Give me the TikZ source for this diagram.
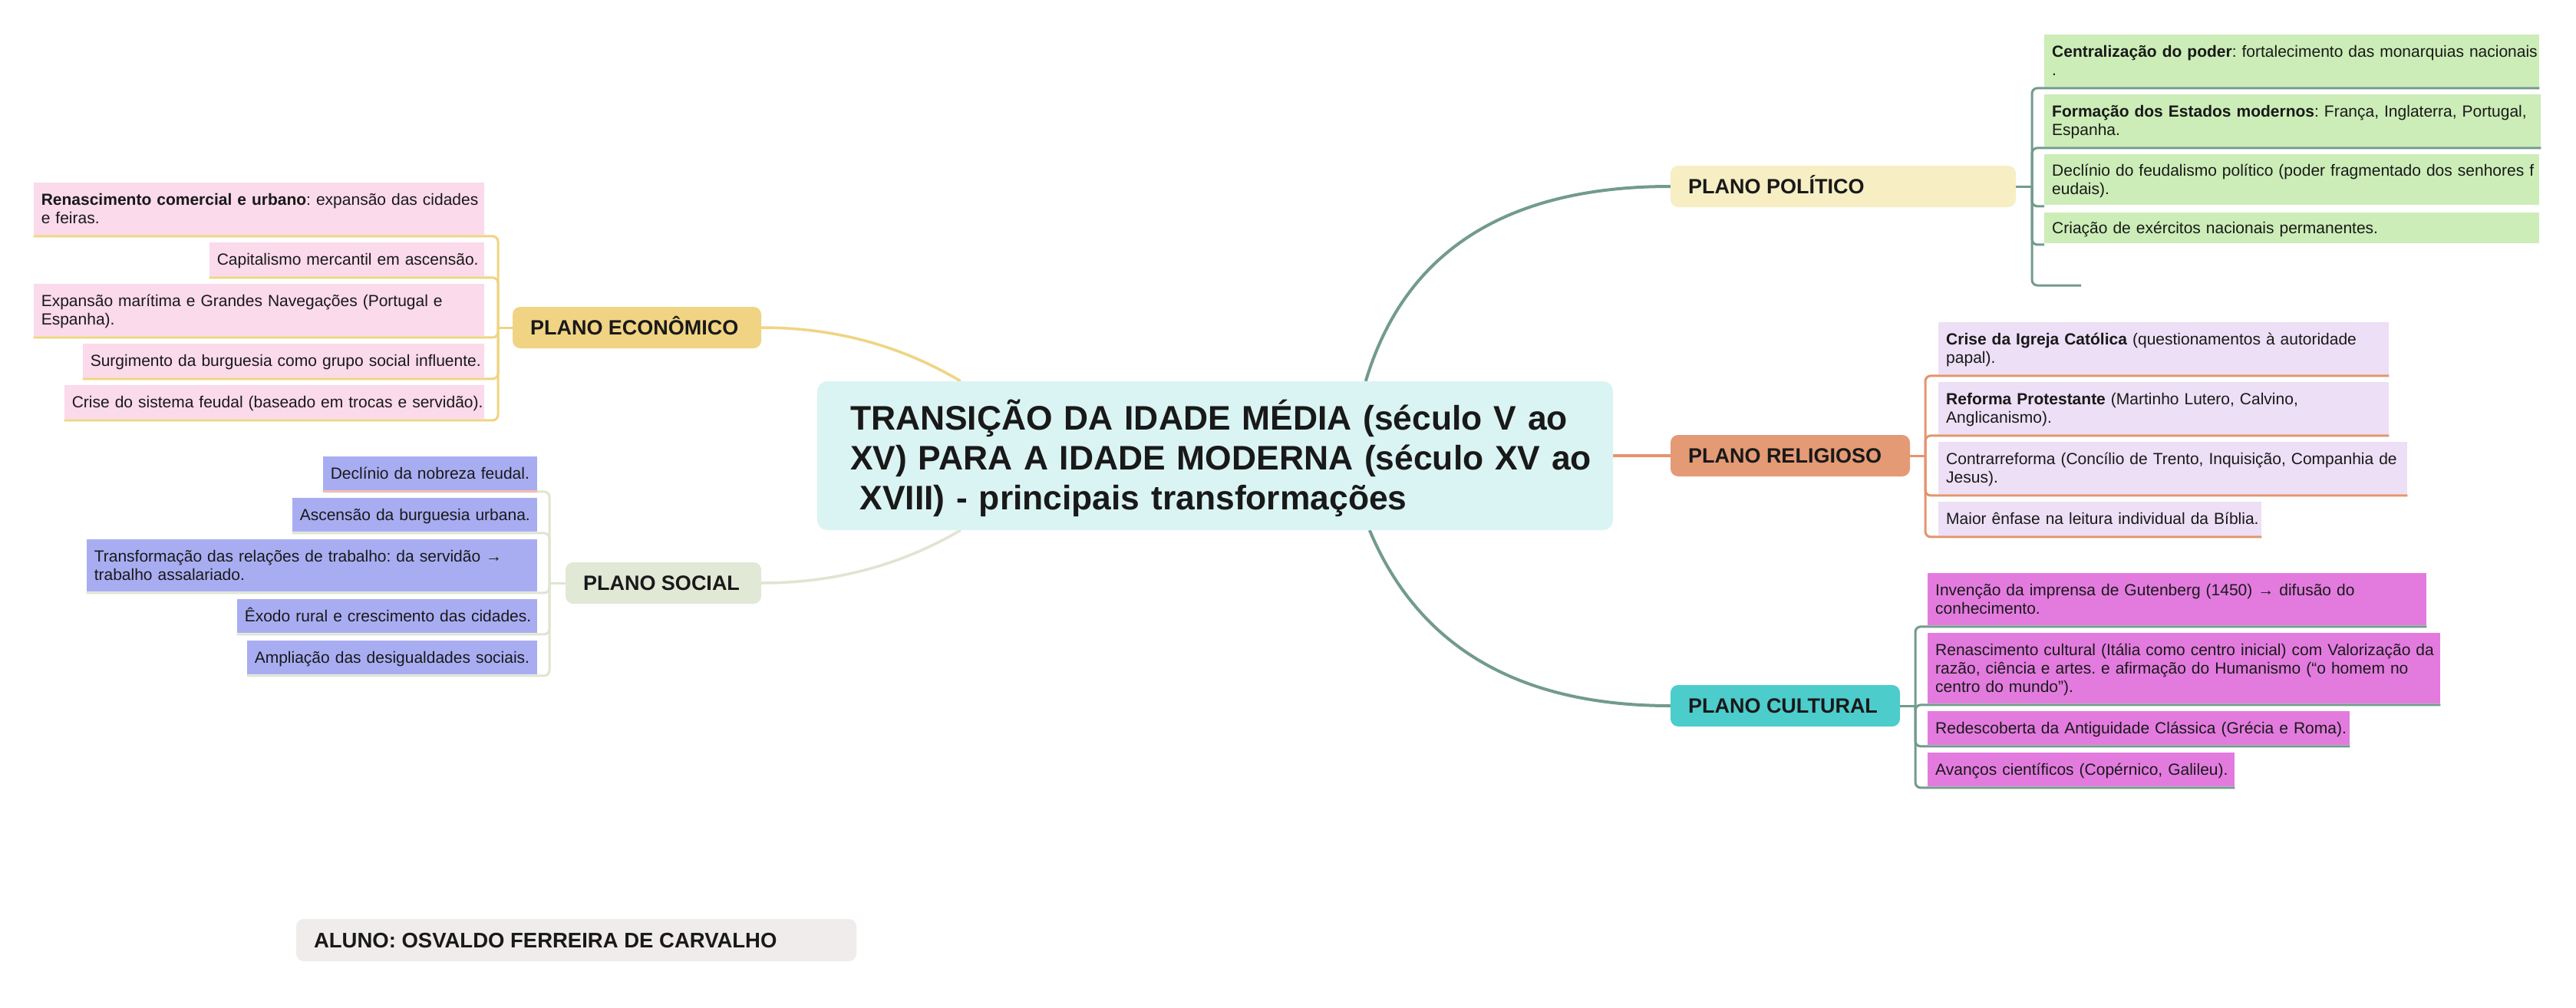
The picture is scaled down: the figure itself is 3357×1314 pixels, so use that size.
\documentclass[tikz,border=0pt]{standalone}
\usepackage{fontspec}
\setmainfont{Liberation Sans}
\frenchspacing
\usetikzlibrary{calc}
\pgfdeclarelayer{wm}
\pgfdeclarelayer{bg}
\pgfsetlayers{wm,bg,main}
\definecolor{econfill}{RGB}{240,212,132}
\definecolor{econline}{RGB}{240,212,130}
\definecolor{pinkleaf}{RGB}{250,218,235}
\definecolor{socfill}{RGB}{225,232,214}
\definecolor{socline}{RGB}{222,229,210}
\definecolor{blueleaf}{RGB}{168,173,242}
\definecolor{salmonline}{RGB}{242,190,178}
\definecolor{polfill}{RGB}{247,238,196}
\definecolor{greenleaf}{RGB}{204,237,183}
\definecolor{tealline}{RGB}{114,155,141}
\definecolor{relfill}{RGB}{227,154,117}
\definecolor{relline}{RGB}{228,148,110}
\definecolor{lavleaf}{RGB}{237,223,245}
\definecolor{culfill}{RGB}{77,204,204}
\definecolor{magleaf}{RGB}{227,123,223}
\definecolor{rootfill}{RGB}{218,244,243}
\definecolor{alunofill}{RGB}{239,236,235}
\definecolor{ink}{RGB}{25,25,25}
\newcommand{\lsa}{\rule{0pt}{20pt}}
\newcommand{\lsb}{\rule[-6pt]{0pt}{6pt}}
\newcommand{\rsa}{\rule{0pt}{46pt}}
\newcommand{\rsb}{\rule[-10pt]{0pt}{10pt}}
\begin{document}
\begin{tikzpicture}[x=1pt,y=-1pt,
  leaf/.style={inner xsep=10pt, inner ysep=0pt, align=left, text=ink,
    font={\fontsize{21}{24}\selectfont\lineskiplimit=-100pt}},
  lone/.style={rounded corners=10pt, inner xsep=23pt, inner ysep=0pt, minimum height=54pt,
    text height=19.3pt, text depth=0pt, font={\bfseries\fontsize{27}{32}\selectfont}, text=ink},
  rootbox/.style={rounded corners=13pt, fill=rootfill, inner xsep=43pt, inner ysep=0pt,
    minimum width=1037pt, minimum height=194pt, text width=951pt, align=left, text=ink,
    font={\bfseries\fontsize{44.4}{52}\selectfont\lineskiplimit=-100pt}},
  alunobox/.style={rounded corners=10pt, fill=alunofill, inner xsep=23pt, inner ysep=0pt,
    minimum height=55pt, text height=19.7pt, text depth=0pt,
    font={\bfseries\fontsize{27.5}{32}\selectfont}, text=ink},
  econb/.style={draw=econline, line width=3pt},
  econc/.style={draw=econline, line width=3.5pt},
  socb/.style={draw=socline, line width=3pt},
  socc/.style={draw=socline, line width=3.5pt},
  tealb/.style={draw=tealline, line width=3pt},
  tealc/.style={draw=tealline, line width=4pt},
  relb/.style={draw=relline, line width=3pt},
  relc/.style={draw=relline, line width=4pt}
]
\useasboundingbox (0,0) rectangle (3357,1314);
\begin{pgfonlayer}{wm}
\fill[white] (0,0) rectangle (3357,1314);
\end{pgfonlayer}

% root
\node[rootbox] (root) at (1583.5,594) {\rsa\mbox{TRANSIÇÃO DA IDADE MÉDIA (século V ao}\\\mbox{XV) PARA A IDADE MODERNA (século XV ao}\\\mbox{\hspace*{12.5pt}XVIII) - principais transformações}\rsb};

% level one
\node[lone, fill=econfill] (econ) at (830,427) {\makebox[278pt][l]{PLANO ECONÔMICO}};
\node[lone, fill=socfill] (soc) at (864.5,760) {\makebox[209pt][l]{PLANO SOCIAL}};
\node[lone, fill=polfill] (pol) at (2402,243) {\makebox[404pt][l]{PLANO POLÍTICO}};
\node[lone, fill=relfill] (rel) at (2333,594) {\makebox[266pt][l]{PLANO RELIGIOSO}};
\node[lone, fill=culfill] (cul) at (2326.5,920) {\makebox[253pt][l]{PLANO CULTURAL}};

% economico leaves
\node[leaf, fill=pinkleaf, text width=567pt, minimum height=68pt, anchor=north east] (E1) at (631,238) {\lsa\mbox{\textbf{Renascimento comercial e urbano}: expansão das cidades}\\\mbox{e feiras.}\lsb};
\node[leaf, fill=pinkleaf, text width=338pt, minimum height=44pt, anchor=north east] (E2) at (631,316) {\lsa\mbox{Capitalismo mercantil em ascensão.}\lsb};
\node[leaf, fill=pinkleaf, text width=567pt, minimum height=68pt, anchor=north east] (E3) at (631,370) {\lsa\mbox{Expansão marítima e Grandes Navegações (Portugal e}\\\mbox{Espanha).}\lsb};
\node[leaf, fill=pinkleaf, text width=503pt, minimum height=44pt, anchor=north east] (E4) at (631,448) {\lsa\mbox{Surgimento da burguesia como grupo social influente.}\lsb};
\node[leaf, fill=pinkleaf, text width=527pt, minimum height=44pt, anchor=north east] (E5) at (631,502) {\lsa\mbox{Crise do sistema feudal (baseado em trocas e servidão).}\lsb};

% social leaves
\node[leaf, fill=blueleaf, text width=259pt, minimum height=44pt, anchor=north east] (S1) at (700,595) {\lsa\mbox{Declínio da nobreza feudal.}\lsb};
\node[leaf, fill=blueleaf, text width=299pt, minimum height=44pt, anchor=north east] (S2) at (700,649) {\lsa\mbox{Ascensão da burguesia urbana.}\lsb};
\node[leaf, fill=blueleaf, text width=567pt, minimum height=68pt, anchor=north east] (S3) at (700,703) {\lsa\mbox{Transformação das relações de trabalho: da servidão →}\\\mbox{trabalho assalariado.}\lsb};
\node[leaf, fill=blueleaf, text width=371pt, minimum height=44pt, anchor=north east] (S4) at (700,781) {\lsa\mbox{Êxodo rural e crescimento das cidades.}\lsb};
\node[leaf, fill=blueleaf, text width=358pt, minimum height=44pt, anchor=north east] (S5) at (700,835) {\lsa\mbox{Ampliação das desigualdades sociais.}\lsb};

% politico leaves
\node[leaf, fill=greenleaf, text width=625pt, minimum height=68pt, anchor=north west] (P1) at (2664,45) {\lsa\mbox{\textbf{Centralização do poder}: fortalecimento das monarquias nacionais}\\\mbox{.}\lsb};
\node[leaf, fill=greenleaf, text width=627pt, minimum height=68pt, anchor=north west] (P2) at (2664,123) {\lsa\mbox{\textbf{Formação dos Estados modernos}: França, Inglaterra, Portugal,}\\\mbox{Espanha.}\lsb};
\node[leaf, fill=greenleaf, text width=625pt, minimum height=66pt, anchor=north west] (P3) at (2664,201) {\lsa\mbox{Declínio do feudalismo político (poder fragmentado dos senhores f}\\\mbox{eudais).}\lsb};
\node[leaf, fill=greenleaf, text width=625pt, minimum height=40pt, anchor=north west] (P4) at (2664,277) {\lsa\mbox{Criação de exércitos nacionais permanentes.}\lsb};
\coordinate (ptail) at (2712,372);

% religioso leaves
\node[leaf, fill=lavleaf, text width=567pt, minimum height=68pt, anchor=north west] (R1) at (2526,420) {\lsa\mbox{\textbf{Crise da Igreja Católica} (questionamentos à autoridade}\\\mbox{papal).}\lsb};
\node[leaf, fill=lavleaf, text width=567pt, minimum height=68pt, anchor=north west] (R2) at (2526,498) {\lsa\mbox{\textbf{Reforma Protestante} (Martinho Lutero, Calvino,}\\\mbox{Anglicanismo).}\lsb};
\node[leaf, fill=lavleaf, text width=591pt, minimum height=68pt, anchor=north west] (R3) at (2526,576) {\lsa\mbox{Contrarreforma (Concílio de Trento, Inquisição, Companhia de}\\\mbox{Jesus).}\lsb};
\node[leaf, fill=lavleaf, text width=401pt, minimum height=44pt, anchor=north west] (R4) at (2526,654) {\lsa\mbox{Maior ênfase na leitura individual da Bíblia.}\lsb};

% cultural leaves
\node[leaf, fill=magleaf, text width=630pt, minimum height=68pt, anchor=north west] (C1) at (2512,747) {\lsa\mbox{Invenção da imprensa de Gutenberg (1450) → difusão do}\\\mbox{conhecimento.}\lsb};
\node[leaf, fill=magleaf, text width=648pt, minimum height=92pt, anchor=north west] (C2) at (2512,825) {\lsa\mbox{Renascimento cultural (Itália como centro inicial) com Valorização da}\\\mbox{razão, ciência e artes. e afirmação do Humanismo (“o homem no}\\\mbox{centro do mundo”).}\lsb};
\node[leaf, fill=magleaf, text width=530pt, minimum height=44pt, anchor=north west] (C3) at (2512,927) {\lsa\mbox{Redescoberta da Antiguidade Clássica (Grécia e Roma).}\lsb};
\node[leaf, fill=magleaf, text width=380pt, minimum height=44pt, anchor=north west] (C4) at (2512,981) {\lsa\mbox{Avanços científicos (Copérnico, Galileu).}\lsb};

% student
\node[alunobox] (aluno) at (751,1225.5) {\makebox[684pt][l]{ALUNO: OSVALDO FERREIRA DE CARVALHO}};

% bracket points
\coordinate (ebr) at (649,427);
\coordinate (sbr) at (716,760);
\coordinate (pbr) at (2648,243);
\coordinate (rbr) at (2509,594);
\coordinate (cbr) at (2496,920);

\begin{pgfonlayer}{bg}
% main connectors
\draw[econc] ($(root.north west)+(187,0)$) .. controls +(-78.7,-46.7) and +(94.7,0) .. (econ.east);
\draw[socc] ($(root.south west)+(187,0)$) .. controls +(-78.7,46) and +(94.7,0) .. (soc.east);
\draw[tealc] ($(root.north west)+(715,0)$) .. controls +(50.7,-169.3) and +(-214,0) .. (pol.west);
\draw[relc] (root.east) -- (rel.west);
\draw[tealc] ($(root.south west)+(720,0)$) .. controls +(64,152.7) and +(-197.3,0) .. (cul.west);
% economico bracket
\draw[econb] (econ.west) -- (ebr);
\foreach \n in {E1,E2,E3,E4,E5}{
  \draw[econb, rounded corners=7pt] (ebr) |- ($(\n.south west)+(0,1.5)$);
}
% social bracket
\draw[socb] (soc.west) -- (sbr);
\foreach \n in {S1,S2,S3,S4,S5}{
  \draw[socb, rounded corners=7pt] (sbr) |- ($(\n.south west)+(0,1.5)$);
}
\draw[draw=salmonline, line width=3pt] ($(S1.south west)+(0,1.5)$) -- ($(S1.south east)+(0,1.5)$);
% politico bracket
\draw[tealb] (pol.east) -- (pbr);
\foreach \n in {P1,P2}{
  \draw[tealb, rounded corners=7pt] (pbr) |- ($(\n.south east)+(0,1.5)$);
}
\foreach \n in {P3,P4}{
  \draw[tealb, rounded corners=7pt] (pbr) |- ($(\n.south west)+(0,1.5)$);
}
\draw[tealb, rounded corners=7pt] (pbr) |- (ptail);
% religioso bracket
\draw[relb] (rel.east) -- (rbr);
\foreach \n in {R1,R2,R3,R4}{
  \draw[relb, rounded corners=7pt] (rbr) |- ($(\n.south east)+(0,1.5)$);
}
% cultural bracket
\draw[tealb] (cul.east) -- (cbr);
\foreach \n in {C1,C2,C3,C4}{
  \draw[tealb, rounded corners=7pt] (cbr) |- ($(\n.south east)+(0,1.5)$);
}
\end{pgfonlayer}
\end{tikzpicture}
\end{document}
